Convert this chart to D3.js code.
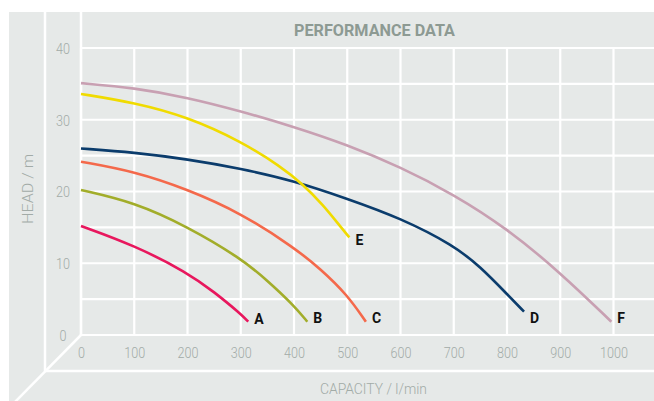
<!DOCTYPE html>
<html>
<head>
<meta charset="utf-8">
<script src="https://cdn.jsdelivr.net/npm/d3@7"></script>
<style>
  html, body { margin: 0; padding: 0; background: #ffffff; }
  svg { display: block; }
</style>
</head>
<body>
<svg id="chart" width="654" height="401"></svg>
<script>
// ---- data (capacity l/min, head m) ----
const seriesNames = ["A", "B", "C", "D", "E", "F"];
const curveA = [[0, 15.2], [100, 12.5], [200, 8.7], [250, 6.0], [300, 2.95], [314, 1.85]];
const curveB = [[0, 20.2], [100, 18.5], [200, 15.1], [300, 10.7], [350, 7.6], [400, 4.1], [425, 1.85]];
const curveC = [[0, 24.15], [100, 22.8], [200, 20.3], [300, 17.0], [400, 12.2], [450, 9.2], [500, 5.6], [535, 1.85]];
const curveD = [[0, 26.0], [100, 25.45], [200, 24.5], [300, 23.2], [400, 21.5], [500, 19.0], [600, 16.3], [700, 12.5], [750, 9.5], [800, 5.7], [832, 3.25]];
const curveE = [[0, 33.6], [100, 32.4], [200, 30.4], [300, 27.0], [375, 23.5], [415, 21.1], [455, 18.1], [485, 15.3], [504, 13.6]];
const curveF = [[0, 35.1], [100, 34.45], [200, 33.1], [300, 31.2], [400, 29.0], [500, 26.5], [600, 23.4], [700, 19.6], [800, 14.85], [900, 8.7], [996, 1.85]];
const labelHeads = [2.3, 2.4, 2.4, 2.4, 13.2, 2.4];
const seriesColors = ["#e8175d", "#a2ad2a", "#f4694b", "#0b3c6c", "#f0db00", "#c8a0b2"];
const capacityTicks = [0, 100, 200, 300, 400, 500, 600, 700, 800, 900, 1000];
const capacityGrid = [0, 100, 200, 300, 400, 500, 600, 700, 800, 900, 1000];
const headTicks = [0, 10, 20, 30, 40];
const headGrid = [0, 5, 10, 15, 20, 25, 30, 35, 40];
const titleText = "PERFORMANCE DATA";
const xTitle = "CAPACITY / l/min";
const yTitle = "HEAD / m";

const curves = [curveA, curveB, curveC, curveD, curveE, curveF];

// ---- layout ----
const W = 654, H = 401;
const panelL = 9, panelT = 12;
const plotL = 81, plotR = 654, plotT = 48, plotB = 335;
const depth = 36;
const bg = "#e6e9e8";
const tickColor = "#a2aba7";

const svg = d3.select("#chart");

const x = d3.scaleLinear().domain([0, 1000]).range([plotL, 613.5]);
const y = d3.scaleLinear().domain([0, 40]).range([plotB, plotT]);

// background panel
svg.append("rect").attr("x", panelL).attr("y", panelT)
  .attr("width", W - panelL).attr("height", H - panelT).attr("fill", bg);

// grid
const grid = svg.append("g").attr("stroke", "#ffffff").attr("stroke-width", 2.2);
grid.selectAll("line.v").data(capacityGrid).join("line")
  .attr("class", "v")
  .attr("x1", d => x(d)).attr("x2", d => x(d))
  .attr("y1", plotT).attr("y2", plotB);
grid.selectAll("line.h").data(headGrid).join("line")
  .attr("class", "h")
  .attr("x1", plotL).attr("x2", plotR)
  .attr("y1", d => y(d)).attr("y2", d => y(d));

// perspective frame lines
const frame = svg.append("g").attr("stroke", "#ffffff").attr("stroke-width", 2.5).attr("fill", "none");
frame.append("line").attr("x1", plotL).attr("x2", plotL).attr("y1", panelT).attr("y2", plotB);
frame.append("line").attr("x1", plotL - depth).attr("x2", plotL - depth).attr("y1", panelT).attr("y2", plotB + depth);
frame.append("line").attr("x1", plotL - depth).attr("x2", plotR).attr("y1", plotB + depth).attr("y2", plotB + depth);
frame.append("line").attr("x1", plotL).attr("y1", plotB).attr("x2", plotL - depth - (H - plotB - depth)).attr("y2", H + 1);

// axes tick labels
const xAxis = d3.axisBottom(x).tickValues(capacityTicks).tickSize(0).tickPadding(0).tickFormat(d3.format("d"));
const gx = svg.append("g").attr("transform", `translate(0,${plotB + 18})`).call(xAxis);
gx.select(".domain").remove();
gx.selectAll("text")
  .attr("y", 0).attr("dy", "0.36em")
  .attr("fill", tickColor)
  .attr("font-family", "Roboto, 'Noto Sans', sans-serif")
  .attr("font-weight", 300)
  .attr("font-size", 15)
  .attr("transform", "scale(0.84,1)");

const yAxis = d3.axisLeft(y).tickValues(headTicks).tickSize(0).tickPadding(0).tickFormat(d3.format("d"));
const gy = svg.append("g").attr("transform", `translate(${plotL - depth / 2},0)`).call(yAxis);
gy.select(".domain").remove();
gy.selectAll("text")
  .attr("x", 0).attr("dy", "0.36em")
  .attr("text-anchor", "middle")
  .attr("fill", tickColor)
  .attr("font-family", "Roboto, 'Noto Sans', sans-serif")
  .attr("font-weight", 300)
  .attr("font-size", 15)
  .attr("transform", "scale(0.84,1)");

// titles
svg.append("text")
  .attr("x", 374.5).attr("y", 36)
  .attr("text-anchor", "middle")
  .attr("font-family", "Roboto, 'Noto Sans', sans-serif")
  .attr("font-weight", 700)
  .attr("font-size", 17)
  .attr("fill", "#8d9a93")
  .attr("textLength", 161).attr("lengthAdjust", "spacingAndGlyphs")
  .text(titleText);

svg.append("text")
  .attr("x", 373.5).attr("y", 394)
  .attr("text-anchor", "middle")
  .attr("font-family", "Roboto, 'Noto Sans', sans-serif")
  .attr("font-weight", 300)
  .attr("font-size", 15)
  .attr("fill", tickColor)
  .attr("textLength", 107).attr("lengthAdjust", "spacingAndGlyphs")
  .text(xTitle);

svg.append("text")
  .attr("transform", "translate(33,189) rotate(-90)")
  .attr("text-anchor", "middle")
  .attr("font-family", "Roboto, 'Noto Sans', sans-serif")
  .attr("font-weight", 300)
  .attr("font-size", 15)
  .attr("fill", tickColor)
  .attr("textLength", 70).attr("lengthAdjust", "spacingAndGlyphs")
  .text(yTitle);

// curves
const line = d3.line().x(d => x(d[0])).y(d => y(d[1])).curve(d3.curveBasis);
const gc = svg.append("g");
gc.selectAll("path").data(curves).join("path")
  .attr("d", d => line(d))
  .attr("fill", "none")
  .attr("stroke", (d, i) => seriesColors[i])
  .attr("stroke-width", 2.6)
  .attr("stroke-linecap", "butt");

// end labels
gc.selectAll("text").data(curves).join("text")
  .attr("x", d => x(d[d.length - 1][0]) + 6)
  .attr("y", (d, i) => y(labelHeads[i]))
  .attr("dy", "0.36em")
  .attr("font-family", "Roboto, 'Noto Sans', sans-serif")
  .attr("font-weight", 700)
  .attr("font-size", 14)
  .attr("fill", "#111111")
  .text((d, i) => seriesNames[i]);
</script>
</body>
</html>
